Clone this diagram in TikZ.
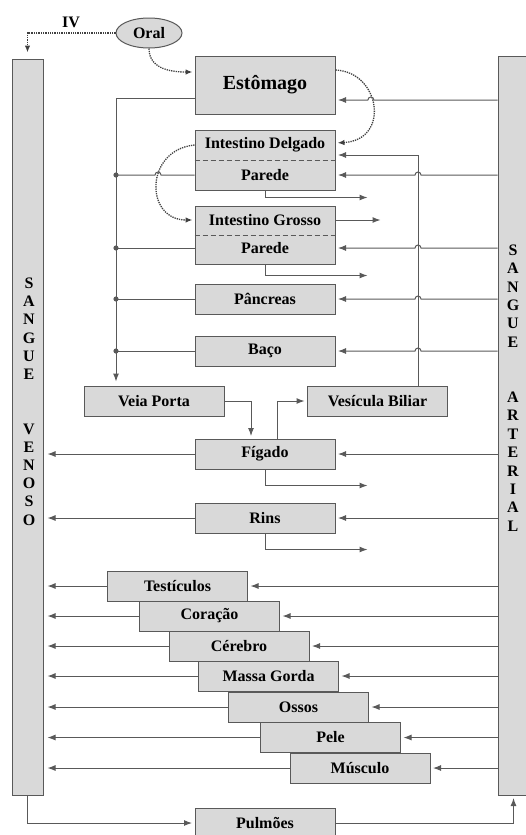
\documentclass[tikz,border=0pt]{standalone}
\usepackage{fontspec}
\setmainfont{Liberation Serif}
\usetikzlibrary{shapes.geometric, arrows.meta}
\tikzset{
  block/.style={
    rectangle,
    draw,
    draw=black!65,
    fill=gray!30,
    line width=1pt,
    minimum width=140pt,
    minimum height=30pt,
    inner sep=0pt,
    font=\organ
  },
  column/.style={rectangle, draw=black!65, fill=gray!30, line width=1pt, minimum width=31pt, inner sep=0pt},
  txt/.style={inner sep=0pt, font=\organ},
  wire/.style={draw=black!65, line width=1pt}
}
\tikzstyle{arrow} = [->, > = {Latex[length=8pt, width=6pt]}, draw=black!65, line width=1pt, shorten >=2.5pt]
\tikzstyle{dotarrow} = [->, > = {Latex[length=7pt, width=5.5pt]}, draw=black!75, line width=1.3pt, densely dotted, shorten >=2pt]
\def\organ{\bfseries\fontsize{16}{16}\selectfont}

\begin{document}
\begin{tikzpicture}[x=1pt, y=-1pt]
    \useasboundingbox (0,0) rectangle (525,835);
    % colunas de sangue
    \node[column, minimum height=736pt] (venoso) at (27.5,427) {};
    \node[column, minimum height=739pt] (arterial) at (513.5,425.5) {};
    \node[txt, align=center, font=\bfseries\fontsize{16}{18.2}\selectfont] (venosoT) at (29,401.5) {S\\A\\N\\G\\U\\E\\\mbox{}\\\mbox{}\\V\\E\\N\\O\\S\\O};
    \node[txt, align=center, font=\bfseries\fontsize{16}{18.4}\selectfont] (arterialT) at (513,388) {S\\A\\N\\G\\U\\E\\\mbox{}\\\mbox{}\\A\\R\\T\\E\\R\\I\\A\\L};
    % orgaos
    \node[ellipse, draw=black!65, fill=gray!30, line width=1pt, minimum width=66pt, minimum height=30pt, inner sep=0pt, font=\organ] (oral) at (149,33) {Oral};
    \node[txt] (iv) at (71,22) {IV};
    \node[block, minimum height=58pt, font=\bfseries\fontsize{20}{20}\selectfont] (estomago) at (265,85) {Estômago};
    \node[block, minimum height=60pt] (delgado) at (265,160) {};
    \draw[wire, dash pattern=on 5pt off 3pt] (delgado.west) -- (delgado.east);
    \node[txt] (delgadoT) at (265,145) {Intestino Delgado};
    \node[txt] (delgadoP) at (265,175) {Parede};
    \node[block, minimum height=58pt] (grosso) at (265,235) {};
    \draw[wire, dash pattern=on 5pt off 3pt] (grosso.west) -- (grosso.east);
    \node[txt] (grossoT) at (265,220) {Intestino Grosso};
    \node[txt] (grossoP) at (265,248) {Parede};
    \node[block] (pancreas) at (265,299) {Pâncreas};
    \node[block] (baco) at (265,351) {Baço};
    \node[block] (veiaporta) at (154,401) {Veia Porta};
    \node[block] (vesicula) at (377.5,401) {Vesícula Biliar};
    \node[block] (figado) at (265,454) {Fígado};
    \node[block] (rins) at (265,518) {Rins};
    \node[block] (testiculos) at (177.5,586) {Testículos};
    \node[block] (coracao) at (209.5,616) {Coração};
    \node[block] (cerebro) at (239,646) {Cérebro};
    \node[block] (massa) at (268.5,676) {Massa Gorda};
    \node[block] (ossos) at (298.5,707) {Ossos};
    \node[block] (pele) at (330.5,737.5) {Pele};
    \node[block] (musculo) at (360,768) {Músculo};
    \node[block] (pulmoes) at (265,823) {Pulmões};
    % pontos auxiliares
    \coordinate (coletor) at ([xshift=-38pt]veiaporta.north);
    \coordinate (bile) at ([xshift=40.5pt]vesicula.north);
    \coordinate (excD) at ([shift={(32pt,-7pt)}]delgado.south east);
    \coordinate (excG) at ([xshift=45pt]grosso.east |- grossoT);
    \coordinate (excGP) at ([shift={(32pt,-11pt)}]grosso.south east);
    \coordinate (excF) at ([shift={(32pt,-16pt)}]figado.south east);
    \coordinate (excR) at ([shift={(32pt,-16pt)}]rins.south east);
    % vias de entrada
    \draw[dotarrow, shorten >=6pt] (oral.west) -| (venoso.north);
    \draw[dotarrow] (oral.south) .. controls +(0,22) and +(-20,0) .. ([yshift=13pt]estomago.west);
    \draw[dotarrow] ([yshift=15pt]estomago.east) .. controls +(45,2) and +(55,-3) .. ([yshift=17pt]delgado.east);
    \draw[dotarrow] ([yshift=15pt]delgado.west) .. controls +(-50,5) and +(-50,0) .. (grosso.west |- grossoT);
    % circulacao portal
    \draw[arrow, shorten >=4pt] ([yshift=-13pt]estomago.west) -| (coletor);
    \draw[wire] (delgado.west |- delgadoP) -- ++(-33.5pt,0) arc[start angle=0, end angle=180, radius=3pt] -- (coletor |- delgadoP);
    \draw[wire] (grosso.west |- grossoP) -- (coletor |- grossoP);
    \draw[wire] (pancreas.west) -- (coletor |- pancreas);
    \draw[wire] (baco.west) -- (coletor |- baco);
    \fill[black!65] (coletor |- delgadoP) circle (2.6pt);
    \fill[black!65] (coletor |- grossoP) circle (2.6pt);
    \fill[black!65] (coletor |- pancreas) circle (2.6pt);
    \fill[black!65] (coletor |- baco) circle (2.6pt);
    \draw[arrow] (veiaporta.east) -| ([xshift=-14pt]figado.north);
    \draw[arrow] ([xshift=12pt]figado.north) |- (vesicula.west);
    \draw[arrow] (bile) |- ([yshift=5pt]delgado.east);
    % sangue arterial
    \draw[arrow] ([yshift=-15pt]estomago.east -| arterial.west) -- ++(-123.6pt,0) arc[start angle=0, end angle=180, radius=3pt] -- ([yshift=-15pt]estomago.east);
    \draw[arrow] (arterial.west |- delgadoP) -- ([xshift=3pt]bile |- delgadoP) arc[start angle=0, end angle=180, radius=3pt] -- (delgado.east |- delgadoP);
    \draw[arrow] (arterial.west |- grossoP) -- ([xshift=3pt]bile |- grossoP) arc[start angle=0, end angle=180, radius=3pt] -- (grosso.east |- grossoP);
    \draw[arrow] (arterial.west |- pancreas) -- ([xshift=3pt]bile |- pancreas) arc[start angle=0, end angle=180, radius=3pt] -- (pancreas.east);
    \draw[arrow] (arterial.west |- baco) -- ([xshift=3pt]bile |- baco) arc[start angle=0, end angle=180, radius=3pt] -- (baco.east);
    \draw[arrow] (arterial.west |- figado) -- (figado.east);
    \draw[arrow] (arterial.west |- rins) -- (rins.east);
    \draw[arrow] (arterial.west |- testiculos) -- (testiculos.east);
    \draw[arrow] (arterial.west |- coracao) -- (coracao.east);
    \draw[arrow] (arterial.west |- cerebro) -- (cerebro.east);
    \draw[arrow] (arterial.west |- massa) -- (massa.east);
    \draw[arrow] (arterial.west |- ossos) -- (ossos.east);
    \draw[arrow] (arterial.west |- pele) -- (pele.east);
    \draw[arrow] (arterial.west |- musculo) -- (musculo.east);
    % eliminacao
    \draw[arrow, shorten >=0pt] (delgado.south) |- (excD);
    \draw[arrow, shorten >=0pt] (grosso.east |- grossoT) -- (excG);
    \draw[arrow, shorten >=0pt] (grosso.south) |- (excGP);
    \draw[arrow, shorten >=0pt] (figado.south) |- (excF);
    \draw[arrow, shorten >=0pt] (rins.south) |- (excR);
    % sangue venoso
    \draw[arrow, shorten >=4pt] (figado.west) -- (venoso.east |- figado);
    \draw[arrow, shorten >=4pt] (rins.west) -- (venoso.east |- rins);
    \draw[arrow, shorten >=4pt] (testiculos.west) -- (venoso.east |- testiculos);
    \draw[arrow, shorten >=4pt] (coracao.west) -- (venoso.east |- coracao);
    \draw[arrow, shorten >=4pt] (cerebro.west) -- (venoso.east |- cerebro);
    \draw[arrow, shorten >=4pt] (massa.west) -- (venoso.east |- massa);
    \draw[arrow, shorten >=4pt] (ossos.west) -- (venoso.east |- ossos);
    \draw[arrow, shorten >=4pt] (pele.west) -- (venoso.east |- pele);
    \draw[arrow, shorten >=4pt] (musculo.west) -- (venoso.east |- musculo);
    % pulmoes
    \draw[arrow] (venoso.south) |- (pulmoes.west);
    \draw[arrow] (pulmoes.east) -| (arterial.south);
\end{tikzpicture}
\end{document}
